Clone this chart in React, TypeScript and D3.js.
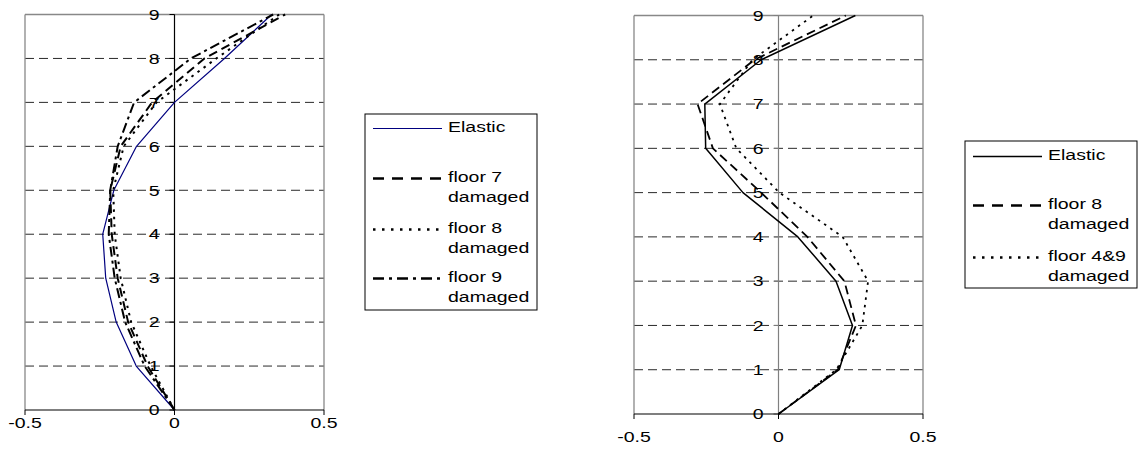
import React from "react";
import * as d3 from "d3";

const floors = [0, 1, 2, 3, 4, 5, 6, 7, 8, 9];
const gridFloors = [1, 2, 3, 4, 5, 6, 7, 8];
const yTicks = [0, 1, 2, 3, 4, 5, 6, 7, 8, 9];
const xTicks = [-0.5, 0, 0.5];

// Left chart
const leftElastic = [0, -0.128, -0.195, -0.23, -0.24, -0.203, -0.127, 0, 0.167, 0.325];
const leftFloor7 = [0, -0.09, -0.155, -0.19, -0.21, -0.215, -0.18, -0.075, 0.1, 0.37];
const leftFloor8 = [0, -0.08, -0.145, -0.18, -0.2, -0.205, -0.17, -0.06, 0.14, 0.35];
const leftFloor9 = [0, -0.1, -0.165, -0.2, -0.22, -0.215, -0.19, -0.135, 0.055, 0.33];
const leftLegend = [
  { label: ["Elastic"], key: "elastic" },
  { label: ["floor 7", "damaged"], key: "f7" },
  { label: ["floor 8", "damaged"], key: "f8" },
  { label: ["floor 9", "damaged"], key: "f9" },
];

// Right chart
const rightElastic = [0, 0.21, 0.256, 0.199, 0.067, -0.123, -0.252, -0.255, -0.06, 0.266];
const rightFloor8 = [0, 0.205, 0.268, 0.228, 0.1, -0.06, -0.227, -0.28, -0.083, 0.233];
const rightFloor49 = [0, 0.2, 0.29, 0.31, 0.222, 0.003, -0.146, -0.203, -0.09, 0.12];
const rightLegend = [
  { label: ["Elastic"], key: "elastic" },
  { label: ["floor 8", "damaged"], key: "f8" },
  { label: ["floor 4&9", "damaged"], key: "f49" },
];

const FONT = "'Liberation Sans', Arial, Helvetica, sans-serif";
const SX = 1.3;

type Style = { stroke: string; width: number; dash?: string; legendDash?: string };

const T = ({ x, y, anchor = "start", children }: any) => (
  <text
    transform={`translate(${x},${y}) scale(${SX},1)`}
    textAnchor={anchor}
    dy="0.35em"
    fontFamily={FONT}
    fontSize={15}
    fill="#000"
  >
    {children}
  </text>
);

function Panel({
  x0, x1, y0, y1, axisColor, series, xLabelY,
}: {
  x0: number; x1: number; y0: number; y1: number; axisColor: string;
  series: { values: number[]; style: Style }[]; xLabelY: number;
}) {
  const x = d3.scaleLinear().domain([-0.5, 0.5]).range([x0, x1]);
  const y = d3.scaleLinear().domain([0, 9]).range([y0, y1]);
  const line = d3
    .line<[number, number]>()
    .x((d) => x(d[0]))
    .y((d) => y(d[1]));
  return (
    <g>
      {gridFloors.map((f) => (
        <line key={f} x1={x0} x2={x1} y1={y(f)} y2={y(f)} stroke="#2a2a2a" strokeWidth={1} strokeDasharray="9,5" />
      ))}
      <line x1={x0} x2={x1} y1={y(9)} y2={y(9)} stroke="#888" strokeWidth={1.3} />
      <line x1={x0} x2={x0} y1={y(9)} y2={y(0)} stroke="#888" strokeWidth={1.3} />
      <line x1={x1} x2={x1} y1={y(9)} y2={y(0)} stroke="#888" strokeWidth={1.3} />
      {yTicks.map((t) => (
        <g key={t}>
          <line x1={x(0) - 5} x2={x(0)} y1={y(t)} y2={y(t)} stroke={axisColor} strokeWidth={1} />
          <T x={x(0) - 15} y={y(t)} anchor="end">{t}</T>
        </g>
      ))}
      <line x1={x(0)} x2={x(0)} y1={y(9)} y2={y(0)} stroke={axisColor} strokeWidth={1.2} />
      <line x1={x0} x2={x1} y1={y(0)} y2={y(0)} stroke="#000" strokeWidth={1.2} />
      {xTicks.map((t) => (
        <g key={t}>
          <line x1={x(t)} x2={x(t)} y1={y(0)} y2={y(0) + 5} stroke="#000" strokeWidth={1} />
          <T x={x(t)} y={xLabelY} anchor="middle">{t}</T>
        </g>
      ))}
      {series.map((s, i) => (
        <path
          key={i}
          d={line(s.values.map((v, k) => [v, floors[k]]) as [number, number][]) || ""}
          fill="none"
          stroke={s.style.stroke}
          strokeWidth={s.style.width}
          strokeDasharray={s.style.dash}
          strokeLinejoin="round"
        />
      ))}
    </g>
  );
}

function Legend({
  bx, by, bw, bh, items, styles, rowY,
}: { bx: number; by: number; bw: number; bh: number; items: any[]; styles: Style[]; rowY: number[] }) {
  return (
    <g>
      <rect x={bx} y={by} width={bw} height={bh} fill="#fff" stroke="#000" strokeWidth={1} />
      {items.map((it, i) => (
        <g key={it.key}>
          <line
            x1={bx + 8}
            x2={bx + 77}
            y1={rowY[i] + 1.5}
            y2={rowY[i] + 1.5}
            stroke={styles[i].stroke}
            strokeWidth={styles[i].width + (styles[i].dash ? 0.6 : 0)}
            strokeDasharray={styles[i].legendDash}
          />
          {it.label.map((l: string, j: number) => (
            <T key={j} x={bx + 83} y={rowY[i] + j * 20}>{l}</T>
          ))}
        </g>
      ))}
    </g>
  );
}

export default function App() {
  const lStyles: Style[] = [
    { stroke: "#00007f", width: 1.2 },
    { stroke: "#000", width: 2, dash: "9,5", legendDash: "11,8" },
    { stroke: "#000", width: 2, dash: "2.5,5", legendDash: "2.5,6.5" },
    { stroke: "#000", width: 2, dash: "10,4,3,4", legendDash: "11,5,3,5" },
  ];
  const rStyles: Style[] = [
    { stroke: "#000", width: 1.5 },
    { stroke: "#000", width: 1.8, dash: "9,5", legendDash: "11,8" },
    { stroke: "#000", width: 1.8, dash: "2.5,5", legendDash: "2.5,6.5" },
  ];
  return (
    <svg
      width={1138}
      height={450}
      style={{ position: "absolute", left: 0, top: 0, background: "#fff" }}
    >
      <rect x={0} y={0} width={1138} height={450} fill="#fff" />
      <Panel
        x0={25}
        x1={324}
        y0={410}
        y1={14.5}
        axisColor="#000"
        xLabelY={423}
        series={[
          { values: leftElastic, style: lStyles[0] },
          { values: leftFloor7, style: lStyles[1] },
          { values: leftFloor8, style: lStyles[2] },
          { values: leftFloor9, style: lStyles[3] },
        ]}
      />
      <Legend bx={365} by={114} bw={172} bh={196} items={leftLegend} styles={lStyles} rowY={[127, 177, 228, 277]} />
      <Panel
        x0={634}
        x1={923}
        y0={414}
        y1={15.5}
        axisColor="#808080"
        xLabelY={437}
        series={[
          { values: rightElastic, style: rStyles[0] },
          { values: rightFloor8, style: rStyles[1] },
          { values: rightFloor49, style: rStyles[2] },
        ]}
      />
      <Legend bx={965} by={141} bw={172} bh={147} items={rightLegend} styles={rStyles} rowY={[155, 204, 256]} />
    </svg>
  );
}
